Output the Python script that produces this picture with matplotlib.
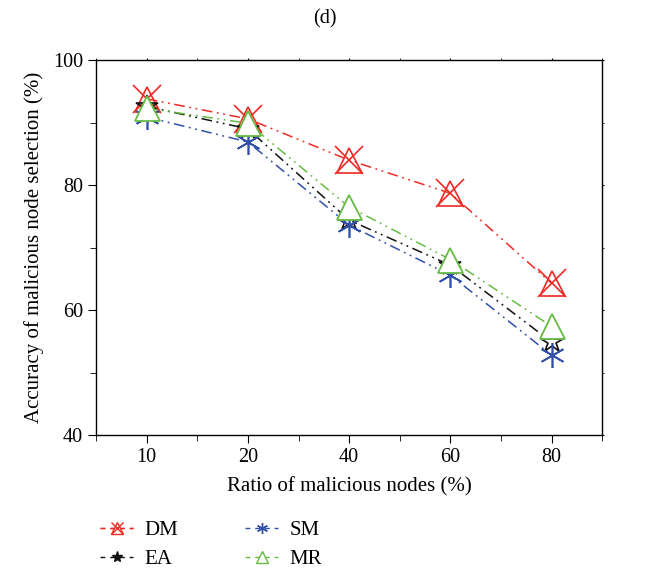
import matplotlib
matplotlib.use("Agg")
import matplotlib.pyplot as plt
from matplotlib.legend_handler import HandlerTuple
from matplotlib.ticker import MultipleLocator

plt.rcParams['font.family'] = ['Liberation Serif', 'DejaVu Serif']

ratio_labels = ['10', '20', '40', '60', '80']
dm = [93.8, 90.6, 84.0, 78.7, 64.3]
ea = [92.6, 89.0, 74.4, 67.2, 54.9]
sm = [90.9, 86.9, 73.6, 65.6, 52.8]
mr = [92.3, 89.9, 76.5, 68.1, 57.4]

xpos = [1, 3, 5, 7, 9]
dashdot2 = (0, (7, 3, 1.2, 3, 1.2, 3))

fig = plt.figure(figsize=(6.49, 5.78), dpi=100)
ax = fig.add_axes([0.148, 0.247, 0.780, 0.649])

red = '#ee2a24'
black = '#111111'
blue = '#2f4fa8'
green = '#66bb44'

ax.plot(xpos, dm, color=red, linestyle=dashdot2, lw=1.1,
        marker='^', markersize=18, markerfacecolor='none',
        markeredgecolor=red, markeredgewidth=1.2)
ax.plot(xpos, dm, linestyle='none', marker='x', markersize=20,
        markeredgecolor=red, markeredgewidth=1.2)
ax.plot(xpos, ea, color=black, linestyle=dashdot2, lw=1.1,
        marker='*', markersize=16, markerfacecolor='none',
        markeredgecolor=black, markeredgewidth=1.2)
ax.plot(xpos, sm, color=blue, linestyle=dashdot2, lw=1.1,
        marker=(6, 2, 0), markersize=18,
        markeredgecolor=blue, markeredgewidth=1.2)
ax.plot(xpos, mr, color=green, linestyle=dashdot2, lw=1.1,
        marker='^', markersize=18, markerfacecolor='white',
        markeredgecolor=green, markeredgewidth=1.3)

ax.set_xlim(0, 10)
ax.set_ylim(40, 100)
ax.set_xticks(xpos)
ax.set_xticklabels(ratio_labels)
ax.xaxis.set_minor_locator(MultipleLocator(2))
ax.set_yticks([40, 60, 80, 100])
ax.yaxis.set_minor_locator(MultipleLocator(10))
ax.tick_params(which='both', direction='out', labelsize=14.5,
               top=True, right=True)
ax.tick_params(which='major', length=6)
ax.tick_params(which='minor', length=4)
for s in ax.spines.values():
    s.set_linewidth(1.0)
# short ticks on the top and right edges
for t in ax.xaxis.get_major_ticks() + ax.xaxis.get_minor_ticks():
    t.tick2line.set_markersize(1.5)
for t in ax.yaxis.get_major_ticks() + ax.yaxis.get_minor_ticks():
    t.tick2line.set_markersize(1.5)

ax.set_xlabel('Ratio of malicious nodes (%)', fontsize=15, labelpad=7)
ax.set_ylabel('Accuracy of malicious node selection (%)', fontsize=15, labelpad=6)
fig.text(0.5, 0.968, '(d)', ha='center', va='center', fontsize=14.5)

# legend handles use small markers
def small(color, marker, **kw):
    h, = ax.plot([], [], color=color, linestyle=(0, (3.5, 3.5)), lw=1.0,
                 marker=marker, markersize=8, markeredgecolor=color, **kw)
    return h

h_dm = (small(red, '^', markerfacecolor='none'),
        small(red, 'x', markerfacecolor='none'))
h_ea = small(black, '*', markerfacecolor=black)
h_sm = small(blue, (6, 2, 0))
h_mr = small(green, '^', markerfacecolor='none')

fig.legend([h_dm, h_ea, h_sm, h_mr], ['DM', 'EA', 'SM', 'MR'],
           handler_map={tuple: HandlerTuple(ndivide=1)},
           loc='upper left', bbox_to_anchor=(0.125, 0.132), ncol=2,
           frameon=False, fontsize=15, handlelength=1.6,
           columnspacing=3.2, labelspacing=0.45, handletextpad=0.55)

fig.savefig('out.png', dpi=100)
